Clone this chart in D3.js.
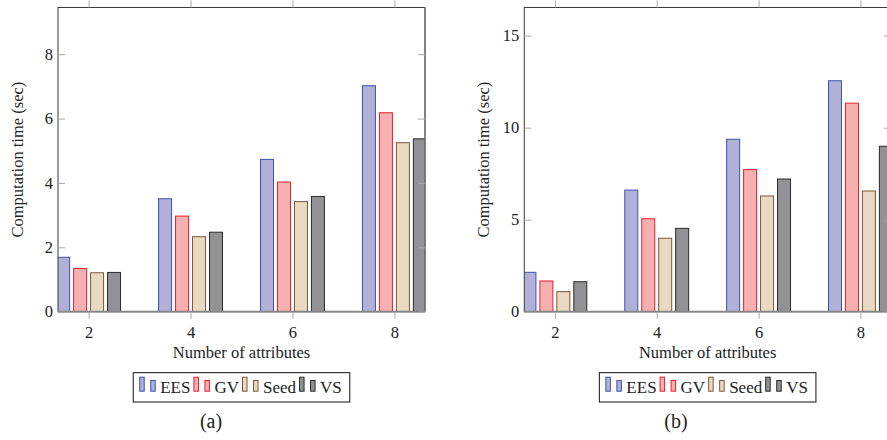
<!DOCTYPE html>
<html lang="en">
<head>
<meta charset="UTF-8">
<script src="https://d3js.org/d3.v7.min.js"></script>
<style>
body { margin: 0; background: #fff; }
text { font-family: "Liberation Serif", "Times New Roman", serif; fill: #222; }
.tick text { font-size: 16.5px; }
.tick line { stroke: #a8a8a8; }
</style>
</head>
<body>
<svg id="fig" width="887" height="440"></svg>
<script>
// data
const attributes = [2, 4, 6, 8];
const seriesNames = ['EES', 'GV', 'Seed', 'VS'];

// panel (a)
const eesA  = [1.69, 3.51, 4.73, 7.02];
const gvA   = [1.34, 2.97, 4.03, 6.18];
const seedA = [1.21, 2.33, 3.42, 5.25];
const vsA   = [1.22, 2.47, 3.58, 5.37];
const yTicksA = [0, 2, 4, 6, 8];

// panel (b)
const eesB  = [2.14, 6.61, 9.37, 12.55];
const gvB   = [1.67, 5.05, 7.72, 11.33];
const seedB = [1.09, 3.99, 6.29, 6.56];
const vsB   = [1.63, 4.53, 7.21, 8.99];
const yTicksB = [0, 5, 10, 15];

const fills   = ['#b1b0d7', '#f7b0b1', '#e9d8c2', '#929294'];
const strokes = ['#3f52b3', '#e8202a', '#7a5836', '#2a2a2a'];

const svg = d3.select('#fig');
const plotTop = 7.5, plotBottom = 311.7;

function panel(id, left, right, yMax, series, yTicks, caption, captionX) {
    let g = svg.append('g');
    let x = d3.scaleLinear().domain([1.4, 8.6]).range([left, right]);
    let y = d3.scaleLinear().domain([0, yMax]).range([plotBottom, plotTop]);
    let step = x(2.333) - x(2); // distance between bars of a group
    let barW = 13;

    g.append('clipPath').attr('id', 'clip' + id)
        .append('rect')
        .attr('x', left).attr('y', plotTop)
        .attr('width', right - left).attr('height', plotBottom - plotTop);

    // bars
    let bars = g.append('g').attr('clip-path', 'url(#clip' + id + ')');
    series.forEach((vals, i) => {
        bars.selectAll('.s' + i)
            .data(vals)
            .enter().append('rect')
            .attr('class', 's' + i)
            .attr('x', (d, j) => x(attributes[j]) + (i - 1.5) * step - barW / 2)
            .attr('y', d => y(d))
            .attr('width', barW)
            .attr('height', d => y(0) - y(d))
            .attr('fill', fills[i])
            .attr('stroke', strokes[i])
            .attr('stroke-width', 1);
    });

    // box
    g.append('rect')
        .attr('x', left).attr('y', plotTop)
        .attr('width', right - left).attr('height', plotBottom - plotTop)
        .attr('fill', 'none').attr('stroke', '#3a3a3a').attr('stroke-width', 1);
    g.append('line')
        .attr('x1', right).attr('x2', right).attr('y1', plotTop).attr('y2', plotBottom)
        .attr('stroke', '#7a7a7a').attr('stroke-width', 1.4);
    g.append('line')
        .attr('x1', left).attr('x2', right).attr('y1', plotBottom).attr('y2', plotBottom)
        .attr('stroke', '#858585').attr('stroke-width', 1.7);

    // axes
    g.append('g')
        .attr('transform', 'translate(0,' + plotBottom + ')')
        .call(d3.axisBottom(x).tickValues(attributes).tickSize(7).tickPadding(8))
        .call(a => a.select('.domain').remove());
    g.append('g')
        .attr('transform', 'translate(0,' + plotTop + ')')
        .call(d3.axisTop(x).tickValues(attributes).tickSize(7).tickFormat(''))
        .call(a => a.select('.domain').remove());
    g.append('g')
        .attr('transform', 'translate(' + left + ',0)')
        .call(d3.axisLeft(y).tickValues(yTicks).tickSize(-7).tickPadding(5))
        .call(a => a.select('.domain').remove());
    g.append('g')
        .attr('transform', 'translate(' + right + ',0)')
        .call(d3.axisRight(y).tickValues(yTicks).tickSize(-7).tickFormat(''))
        .call(a => a.select('.domain').remove());
    g.selectAll('.tick text').attr('fill', '#222');

    // axis titles
    let cx = (left + right) / 2;
    g.append('text')
        .attr('x', cx).attr('y', 357.5)
        .attr('text-anchor', 'middle')
        .style('font-size', '16.5px')
        .text('Number of attributes');
    g.append('text')
        .attr('transform', 'translate(' + (left - 35.5) + ',' + (plotTop + plotBottom) / 2 + ') rotate(-90)')
        .attr('text-anchor', 'middle')
        .style('font-size', '16.5px')
        .text('Computation time (sec)');

    // legend
    let leg = g.append('g');
    let box = leg.append('rect')
        .attr('y', 372.7).attr('height', 29.3)
        .attr('fill', '#fff').attr('stroke', '#111').attr('stroke-width', 1);
    let cur = 6;
    seriesNames.forEach((name, i) => {
        leg.append('rect')
            .attr('x', cur + 0.5).attr('y', 377.2)
            .attr('width', 4.5).attr('height', 14)
            .attr('fill', fills[i]).attr('stroke', strokes[i]);
        leg.append('rect')
            .attr('x', cur + 11.5).attr('y', 380.5)
            .attr('width', 4.5).attr('height', 10.7)
            .attr('fill', fills[i]).attr('stroke', strokes[i]);
        let t = leg.append('text')
            .attr('x', cur + 21).attr('y', 393.3)
            .style('font-size', '17px')
            .text(name);
        cur += 21 + t.node().getComputedTextLength() + 3;
    });
    let legW = cur - 3 + 8;
    box.attr('x', 0).attr('width', legW);
    leg.attr('transform', 'translate(' + (cx - legW / 2) + ',0)');

    // caption
    g.append('text')
        .attr('x', captionX).attr('y', 428)
        .attr('text-anchor', 'middle')
        .style('font-size', '20px')
        .text(caption);
}

panel('a', 58, 425, 9.45, [eesA, gvA, seedA, vsA], yTicksA, '(a)', 211);
panel('b', 524.3, 891, 16.53, [eesB, gvB, seedB, vsB], yTicksB, '(b)', 676);
</script>
</body>
</html>
